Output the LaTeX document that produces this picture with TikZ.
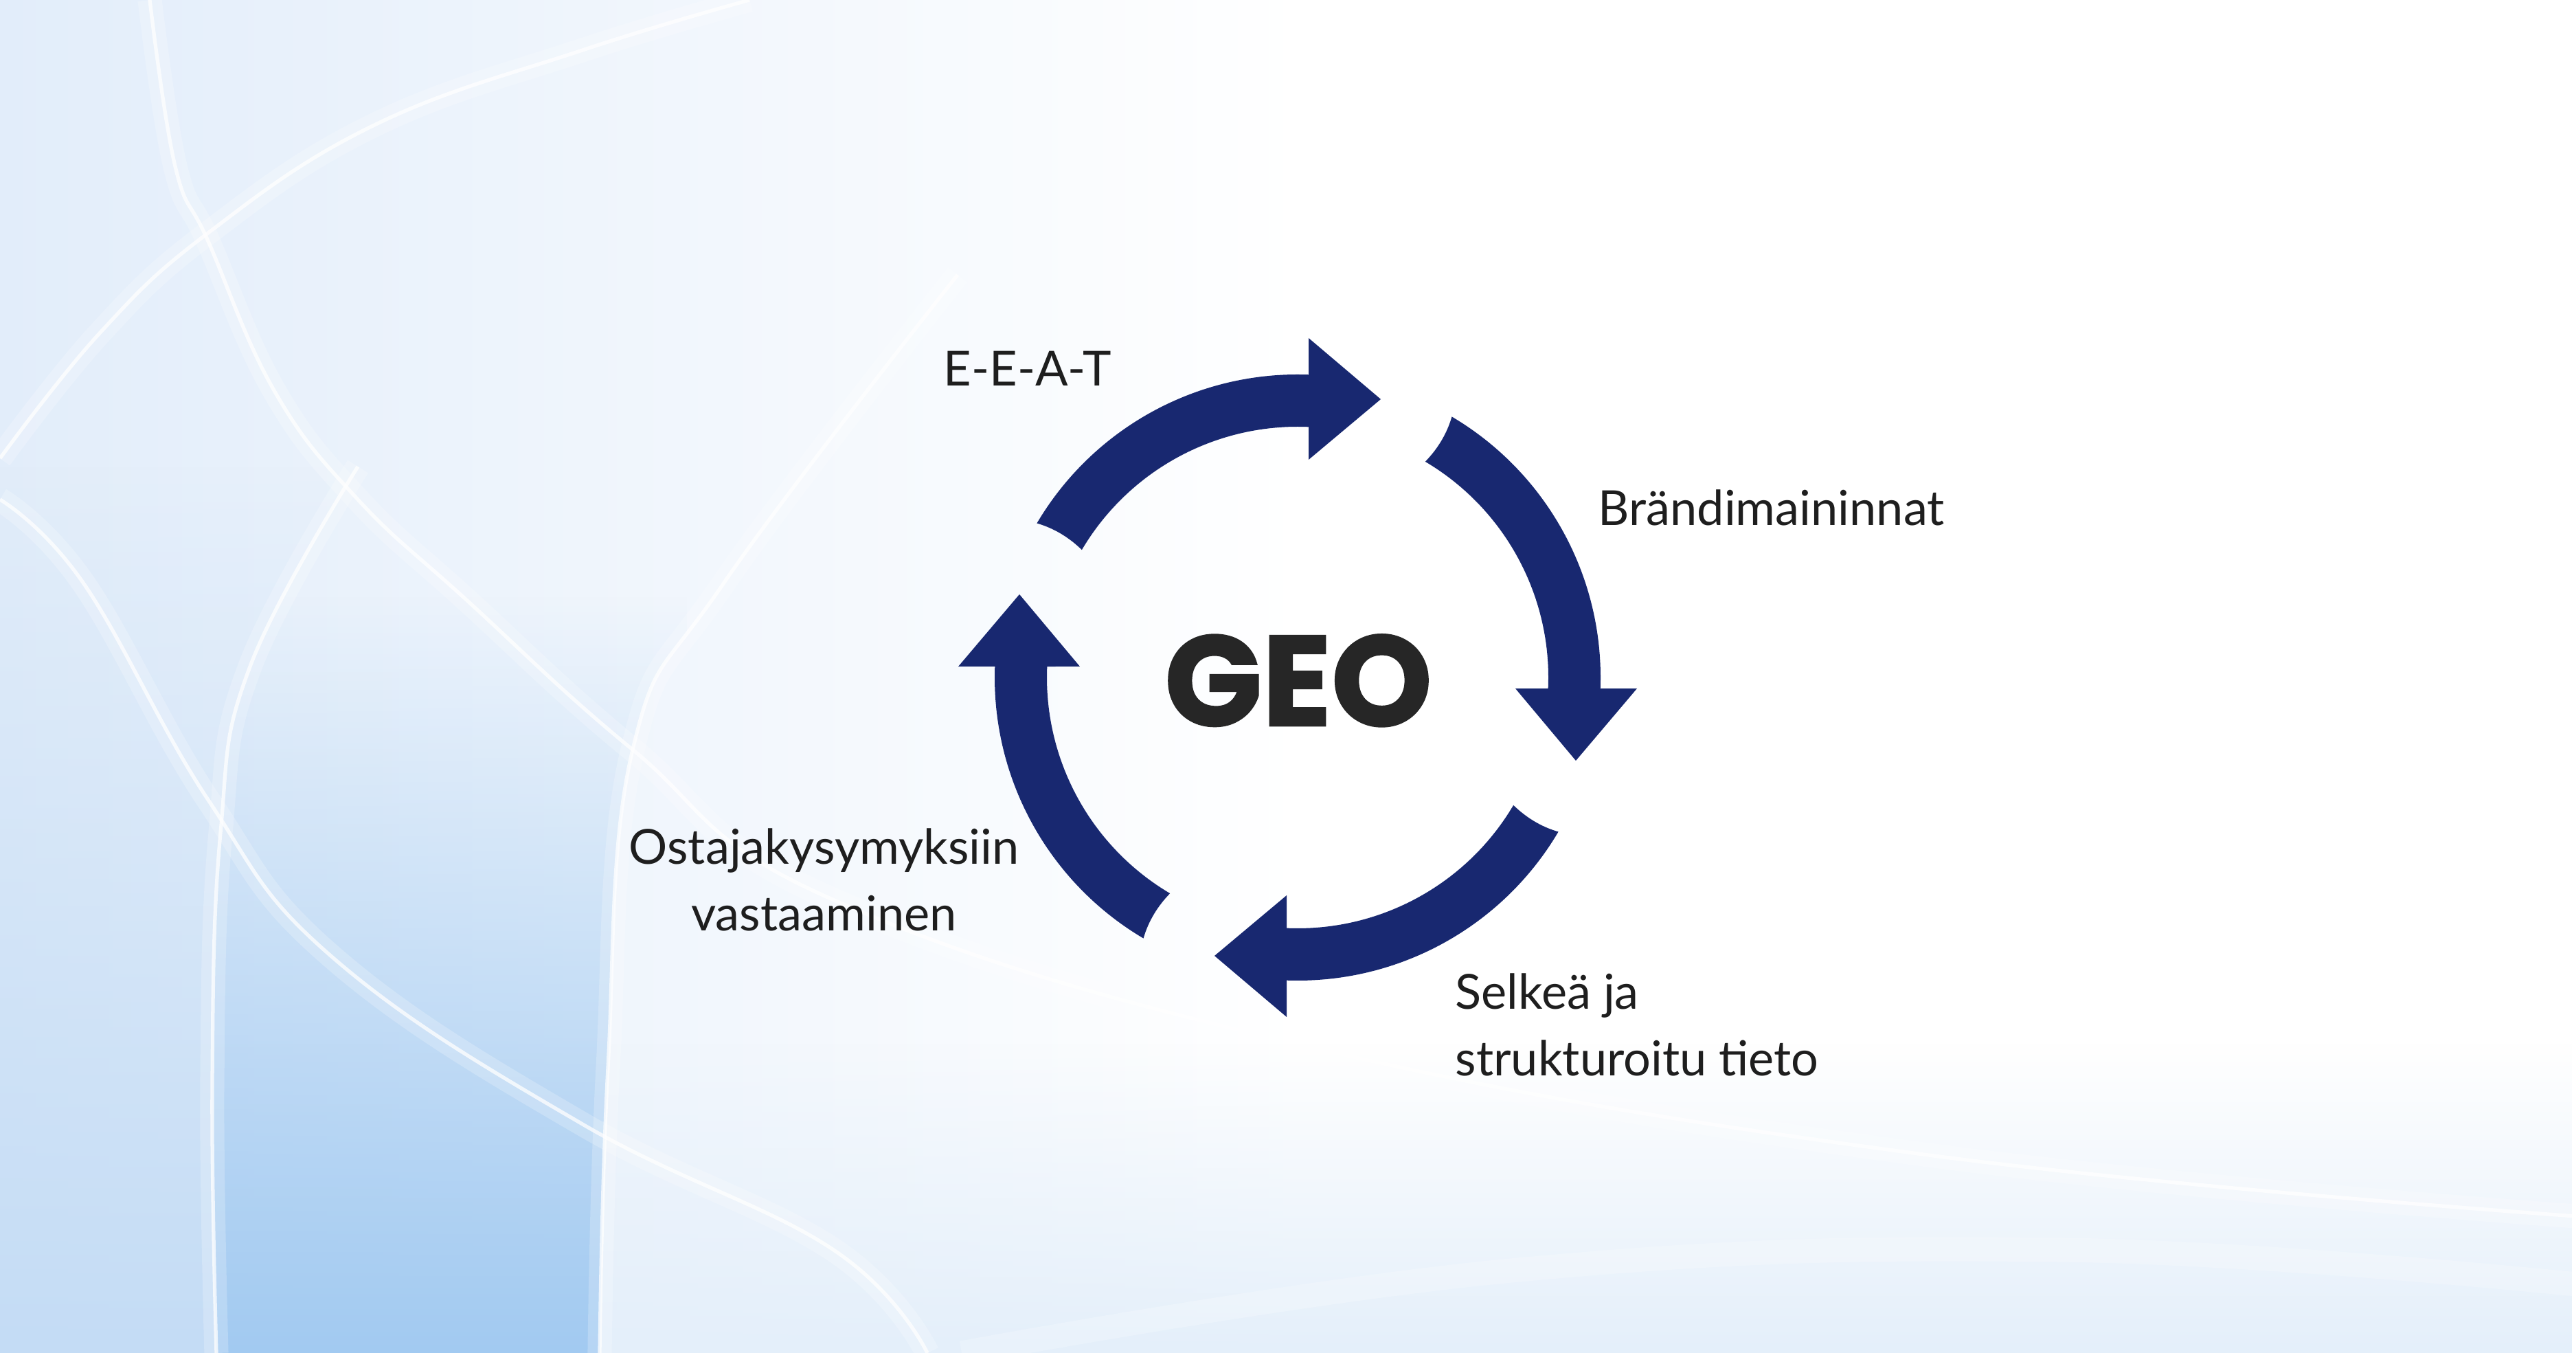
\documentclass[tikz,border=0pt]{standalone}
\usepackage{fontspec}
\setmainfont{Lato}
\newfontfamily\geofont{Poppins}[BoldFeatures={FakeBold=1.5}]
\usetikzlibrary{fadings}

\definecolor{arrowblue}{RGB}{24,40,112}
\definecolor{labelblack}{RGB}{30,30,30}
\definecolor{geoblack}{RGB}{38,38,38}
\definecolor{bgpale}{RGB}{226,237,250}
\definecolor{bgblue}{RGB}{196,220,245}
\definecolor{bgfaint}{RGB}{228,239,250}
\definecolor{bgdeep}{RGB}{162,202,241}

\tikzset{
  labeltext/.style={text=labelblack, font=\fontsize{20}{27.6}\selectfont, inner sep=0pt},
  bgline/.style={white, line width=1.5pt, opacity=0.75},
  bgglow/.style={white, line width=10pt, opacity=0.22},
  cyclearrow/.pic={
    \fill[arrowblue]
      (149.4:4.41) arc[start angle=149.4, end angle=87.92, radius=4.41]
      -- (0.16,4.94) -- (1.21,4.05) -- (0.16,3.17)
      -- (87.49:3.65) arc[start angle=87.49, end angle=149.4, radius=3.65]
      .. controls (148.5:3.90) and (148.5:4.16) .. cycle;
  }
}

\begin{document}
\begin{tikzpicture}
      \def\picWidth{37.5}
      \def\picHeight{19.69}
      \useasboundingbox (0,0) rectangle (\picWidth,\picHeight);

      % background
      \begin{scope}
        \clip (0,0) rectangle (\picWidth,\picHeight);
        \fill[white] (0,0) rectangle (\picWidth,\picHeight);
        \shade[left color=bgpale, right color=white]
          (0,0) rectangle (19,\picHeight);
        \fill[bgfaint, path fading=north] (0,0) rectangle (\picWidth,4.5);
        \begin{scope}
          \clip (0,0) -- plot [smooth, tension=0.7]
            coordinates {(3.15,0) (3.09,3.93) (3.21,7.57) (3.64,9.99) (5.21,12.90)}
            -- (0,12.9) -- cycle;
          \fill[bgblue, path fading=north] (0,0) rectangle (6,13);
        \end{scope}
        \begin{scope}
          \clip plot [smooth, tension=0.7]
            coordinates {(3.15,0) (3.09,3.93) (3.21,7.57) (3.64,9.99) (5.21,12.90)}
            -- plot [smooth, tension=0.7]
            coordinates {(13.94,15.69) (10.54,11.21) (9.21,8.78) (8.85,4.15) (8.73,0)}
            -- cycle;
          \fill[bgdeep, path fading=north] (3,0) rectangle (10,11);
        \end{scope}

        \draw[bgglow] plot [smooth, tension=0.7]
          coordinates {(0,13.02) (1.45,14.84) (3.03,16.30) (5.45,17.87) (8.48,18.96) (10.91,19.69)};
        \draw[bgline] plot [smooth, tension=0.7]
          coordinates {(0,13.02) (1.45,14.84) (3.03,16.30) (5.45,17.87) (8.48,18.96) (10.91,19.69)};

        \draw[bgglow] plot [smooth, tension=0.7]
          coordinates {(2.18,19.69) (2.55,17.27) (3.03,16.18) (4.0,13.99) (5.21,12.42)
            (6.79,10.96) (9.21,8.78) (12.12,6.60) (19,4.47) (28,2.89) (37.5,1.99)};
        \draw[bgline] plot [smooth, tension=0.7]
          coordinates {(2.18,19.69) (2.55,17.27) (3.03,16.18) (4.0,13.99) (5.21,12.42)
            (6.79,10.96) (9.21,8.78) (12.12,6.60) (19,4.47) (28,2.89) (37.5,1.99)};

        \draw[bgglow] plot [smooth, tension=0.7]
          coordinates {(0,12.42) (1.21,11.21) (3.03,8.05) (4.85,5.75) (8.48,3.33) (12.12,1.51) (13.5,0)};
        \draw[bgline] plot [smooth, tension=0.7]
          coordinates {(0,12.42) (1.21,11.21) (3.03,8.05) (4.85,5.75) (8.48,3.33) (12.12,1.51) (13.5,0)};

        \draw[bgglow] plot [smooth, tension=0.7]
          coordinates {(13.94,15.69) (10.54,11.21) (9.21,8.78) (8.85,4.15) (8.73,0)};
        \draw[bgline] plot [smooth, tension=0.7]
          coordinates {(13.94,15.69) (10.54,11.21) (9.21,8.78) (8.85,4.15) (8.73,0)};

        \draw[bgglow] plot [smooth, tension=0.7]
          coordinates {(5.21,12.90) (3.64,9.99) (3.21,7.57) (3.09,3.93) (3.15,0)};
        \draw[bgline] plot [smooth, tension=0.7]
          coordinates {(5.21,12.90) (3.64,9.99) (3.21,7.57) (3.09,3.93) (3.15,0)};

        \draw[bgglow] plot [smooth, tension=0.7]
          coordinates {(14,0) (22,1.2) (30,1.5) (37.5,1.0)};
      \end{scope}

      % cycle
      \coordinate (hub) at (18.89,9.83);
      \pic (eeatarrow) at (hub) {cyclearrow};
      \pic[rotate=-90] (brandarrow) at (hub) {cyclearrow};
      \pic[rotate=-180] (selkeaarrow) at (hub) {cyclearrow};
      \pic[rotate=-270] (ostajaarrow) at (hub) {cyclearrow};

      \node (geo) [anchor=base, text=geoblack, inner sep=0pt,
        font=\geofont\bfseries\fontsize{53}{53}\selectfont]
        at (18.90,9.13) {GEO};

      % labels
      \node (eeat) [labeltext, anchor=base west] at (13.73,14.07) {E-E-A-T};
      \node (brand) [labeltext, anchor=base west] at (23.26,12.04) {Brändimaininnat};
      \node (selkea) [labeltext, anchor=base west, align=left]
        at (21.18,4.03) {Selkeä ja\\strukturoitu tieto};
      \node (ostaja) [labeltext, anchor=base, align=center]
        at (11.995,6.14) {Ostajakysymyksiin\\vastaaminen};
    \end{tikzpicture}
\end{document}
